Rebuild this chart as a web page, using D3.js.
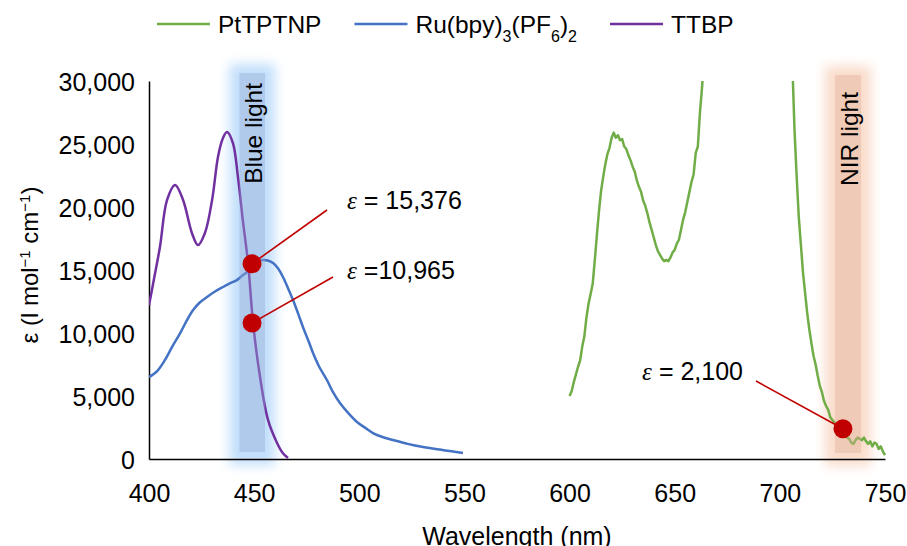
<!DOCTYPE html>
<html lang="en">
<head>
<meta charset="UTF-8">
<title>Molar absorption spectra</title>
<script src="https://d3js.org/d3.v7.min.js"></script>
<style>
    body { margin: 0; background: #fff; }
    svg { display: block; font-family: "Liberation Sans", Arial, Helvetica, sans-serif; }
    .axis path { stroke: #000; stroke-width: 1.5; }
    .axis text { font-size: 25px; fill: #000; }
</style>
</head>
<body>
<script>
// ---- data ----
const wavelengthTicks = [400, 450, 500, 550, 600, 650, 700, 750];
const epsilonTicks = [0, 5000, 10000, 15000, 20000, 25000, 30000];

const seriesNames = ["PtTPTNP", "Ru(bpy)3(PF6)2", "TTBP"];
const seriesColors = ["#70ad47", "#4472c4", "#7030a0"];

// PtTPTNP (green), wavelength nm / epsilon
const ptWavelength = [600, 601, 602, 603, 604, 605, 606, 607, 608, 609, 610, 611, 612, 613, 614, 615, 616, 617, 618, 619,
    620, 621, 622, 623, 624, 625, 626, 627, 628, 629, 630, 631, 632, 633, 634, 635, 636, 637, 638, 639,
    640, 641, 642, 643, 644, 645, 646, 647, 648, 649, 650, 651, 652, 653, 654, 655, 656, 657, 658, 659,
    660, 661, 662, 663, 664, 666, 670, 700, 704, 706, 707, 708, 709, 710, 711, 712, 713, 714, 715, 716,
    717, 718, 719, 720, 721, 722, 723, 724, 725, 726, 727, 728, 729, 730, 731, 732, 733, 734, 735, 736,
    737, 738, 739, 740, 741, 742, 743, 744, 745, 746, 747, 748, 749, 750];
const ptEpsilon = [5000, 5400, 6100, 6700, 7300, 7800, 8900, 9700, 11200, 12300, 13100, 13900, 15800, 17800, 19700, 21300, 22400, 23400, 24200, 24700,
    25500, 25900, 25500, 25700, 25300, 25400, 24800, 24600, 24100, 23700, 23200, 22800, 22100, 21600, 21200, 20500, 20100, 19500, 18800, 18200,
    17600, 17000, 16500, 16200, 15900, 15700, 15800, 15700, 16000, 16400, 16600, 17100, 17400, 18200, 19000, 19600, 20400, 21200, 22000, 22600,
    24300, 24800, 27500, 29500, 32000, 45000, 60000, 60000, 45000, 31000, 26000, 22400, 19200, 17000, 14800, 13200, 11600, 10300, 9200, 8200,
    7500, 6600, 5800, 5300, 4600, 4200, 3900, 3300, 3100, 2900, 2700, 2500, 2300, 2300, 1900, 1700, 1600, 1300, 1200, 1500,
    1700, 1600, 1500, 1700, 1400, 1200, 1400, 1000, 1300, 1200, 800, 1000, 600, 300];

// Ru(bpy)3(PF6)2 (blue)
const ruWavelength = [400, 404, 407.6, 411, 414.7, 418, 420.9, 424, 427.6, 431, 435.2, 438, 441.8, 444, 446.6, 449.5, 452, 454.2, 456.5, 459,
    461.5, 463.7, 466, 468.5, 471, 473.2, 476, 478, 481, 484.6, 487.5, 490.8, 495, 498.9, 503, 506.5, 511, 516, 523, 530.3, 540, 549.3];
const ruEpsilon = [6500, 7000, 7860, 8900, 9950, 11000, 11800, 12400, 12860, 13250, 13650, 13900, 14200, 14500, 14840, 15400, 15700, 15790, 15750, 15550,
    15100, 14440, 13600, 12620, 11500, 10480, 9300, 8410, 7300, 6270, 5300, 4440, 3600, 2940, 2450, 2060, 1750, 1510, 1200, 950, 700, 480];

// TTBP (purple)
const ttbpWavelength = [400, 402.5, 405.2, 408.6, 412.4, 416.2, 420.4, 423.3, 426.6, 430, 432.8, 435, 437.1, 439.9, 442.3, 444.6, 447.1, 449.5,
    452.8, 456.6, 460.9, 463.5, 466.1];
const ttbpEpsilon = [12200, 14400, 16830, 20560, 21750, 20560, 17940, 16980, 17940, 20560, 23970, 25400, 25950, 25080, 22380, 18970, 15560, 10790,
    6510, 3100, 1270, 500, 80];

// excitation bands (nm)
const bandNames = ["Blue light", "NIR light"];
const bandRanges = [[443, 455.2], [726.2, 738.6]];

// marked points and their labels
const markWavelength = [449, 449, 730];
const markEpsilon = [15500, 10790, 2400];
const markLabels = ["= 15,376", "=10,965", "= 2,100"];

// ---- layout ----
const W = 907, H = 546;
const x = d3.scaleLinear().domain([400, 750]).range([149, 885]);
const y = d3.scaleLinear().domain([0, 30000]).range([459, 81]);

const svg = d3.select("body").append("svg")
    .attr("width", W)
    .attr("height", H);

const defs = svg.append("defs");
defs.append("filter")
    .attr("id", "glow")
    .attr("x", "-100%").attr("y", "-20%")
    .attr("width", "300%").attr("height", "140%")
    .append("feGaussianBlur").attr("stdDeviation", 6);
defs.append("clipPath").attr("id", "plotClip")
    .append("rect")
    .attr("x", x(400)).attr("y", y(30000))
    .attr("width", x(750) - x(400) + 4).attr("height", y(0) - y(30000) + 2);

const bandGlow = ["#c2dffb", "#f9dccb"];
const bandCore = ["rgb(150,170,215)", "rgb(226,175,150)"];
const bandTop = [73, 75];
const bandBottom = [452, 453];

// glow behind everything
bandRanges.forEach((r, i) => {
    svg.append("rect")
        .attr("x", x(r[0]) - 10)
        .attr("y", bandTop[i] - 9)
        .attr("width", x(r[1]) - x(r[0]) + 20)
        .attr("height", bandBottom[i] - bandTop[i] + 22)
        .attr("fill", bandGlow[i])
        .attr("filter", "url(#glow)");
});

// axes
const yAxis = svg.append("g")
    .attr("class", "axis")
    .attr("transform", `translate(${x(400)},0)`)
    .call(d3.axisLeft(y).tickValues(epsilonTicks).tickFormat(d3.format(",")).tickSize(0).tickPadding(14).tickSizeOuter(0));
yAxis.selectAll("text").attr("dy", "0.36em");

const xAxis = svg.append("g")
    .attr("class", "axis")
    .attr("transform", `translate(0,${y(0)})`)
    .call(d3.axisBottom(x).tickValues(wavelengthTicks).tickFormat(d3.format("d")).tickSize(0).tickPadding(25).tickSizeOuter(0));

// spectra
const line = d3.line().x(d => x(d[0])).y(d => y(d[1]));
const plot = svg.append("g").attr("clip-path", "url(#plotClip)");

const spectra = [
    {wl: ptWavelength, eps: ptEpsilon, curve: d3.curveLinear},
    {wl: ruWavelength, eps: ruEpsilon, curve: d3.curveCatmullRom},
    {wl: ttbpWavelength, eps: ttbpEpsilon, curve: d3.curveCatmullRom}
];
spectra.forEach((s, i) => {
    const pts = s.wl.map((w, k) => [w, s.eps[k]]);
    plot.append("path")
        .datum(pts)
        .attr("fill", "none")
        .attr("stroke", seriesColors[i])
        .attr("stroke-width", 2.5)
        .attr("stroke-linejoin", "round")
        .attr("d", line.curve(s.curve));
});

// band cores, translucent over the lines
bandRanges.forEach((r, i) => {
    svg.append("rect")
        .attr("x", x(r[0]))
        .attr("y", bandTop[i])
        .attr("width", x(r[1]) - x(r[0]))
        .attr("height", bandBottom[i] - bandTop[i])
        .attr("fill", bandCore[i])
        .attr("fill-opacity", 0.4);
});

// band labels
const bandLabelTop = [83, 92];
bandNames.forEach((name, i) => {
    const cx = (x(bandRanges[i][0]) + x(bandRanges[i][1])) / 2 + 1;
    svg.append("text")
        .attr("transform", `translate(${cx},${bandLabelTop[i]}) rotate(-90)`)
        .attr("text-anchor", "end")
        .attr("dy", "0.35em")
        .attr("font-size", 24.5)
        .text(name);
});

// callouts
const calloutEnd = [[327, 210], [333, 277], [756, 381]];
const calloutText = [[347, 200, "start"], [347, 270, "start"], [743, 371, "end"]];
markWavelength.forEach((w, i) => {
    svg.append("line")
        .attr("x1", x(w)).attr("y1", y(markEpsilon[i]))
        .attr("x2", calloutEnd[i][0]).attr("y2", calloutEnd[i][1])
        .attr("stroke", "#c00000")
        .attr("stroke-width", 1.6);
});
markWavelength.forEach((w, i) => {
    svg.append("circle")
        .attr("cx", x(w)).attr("cy", y(markEpsilon[i]))
        .attr("r", 9.5)
        .attr("fill", "#c00000");
    const t = svg.append("text")
        .attr("x", calloutText[i][0]).attr("y", calloutText[i][1])
        .attr("dy", "0.35em")
        .attr("text-anchor", calloutText[i][2])
        .attr("font-size", 25);
    t.append("tspan")
        .attr("font-family", "'Liberation Serif', 'Times New Roman', serif")
        .attr("font-style", "italic")
        .text("ε");
    t.append("tspan").text(" " + markLabels[i]);
});

// axis titles
svg.append("text")
    .attr("x", (x(400) + x(750)) / 2)
    .attr("y", 545)
    .attr("text-anchor", "middle")
    .attr("font-size", 25)
    .text("Wavelength (nm)");

const yt = svg.append("text")
    .attr("transform", `translate(30,265) rotate(-90)`)
    .attr("text-anchor", "middle")
    .attr("dy", "0.35em")
    .attr("font-size", 24);
yt.append("tspan").text("ε (l mol");
yt.append("tspan").attr("font-size", 15).attr("baseline-shift", "super").text("−1");
yt.append("tspan").text(" cm");
yt.append("tspan").attr("font-size", 15).attr("baseline-shift", "super").text("−1");
yt.append("tspan").text(")");

// legend
const legend = svg.append("g");
let lx = 157;
const ly = 24;
seriesNames.forEach((name, i) => {
    legend.append("line")
        .attr("x1", lx).attr("x2", lx + 53)
        .attr("y1", ly).attr("y2", ly)
        .attr("stroke", seriesColors[i])
        .attr("stroke-width", 2.5);
    const t = legend.append("text")
        .attr("x", lx + 61).attr("y", ly)
        .attr("dy", "0.35em")
        .attr("font-size", 24.5);
    if (name.startsWith("Ru")) {
        t.append("tspan").text("Ru(bpy)");
        t.append("tspan").attr("font-size", 16).attr("baseline-shift", "sub").text("3");
        t.append("tspan").text("(PF");
        t.append("tspan").attr("font-size", 16).attr("baseline-shift", "sub").text("6");
        t.append("tspan").text(")");
        t.append("tspan").attr("font-size", 16).attr("baseline-shift", "sub").text("2");
    } else {
        t.text(name);
    }
    lx += 61 + t.node().getComputedTextLength() + 33;
});
</script>
</body>
</html>
